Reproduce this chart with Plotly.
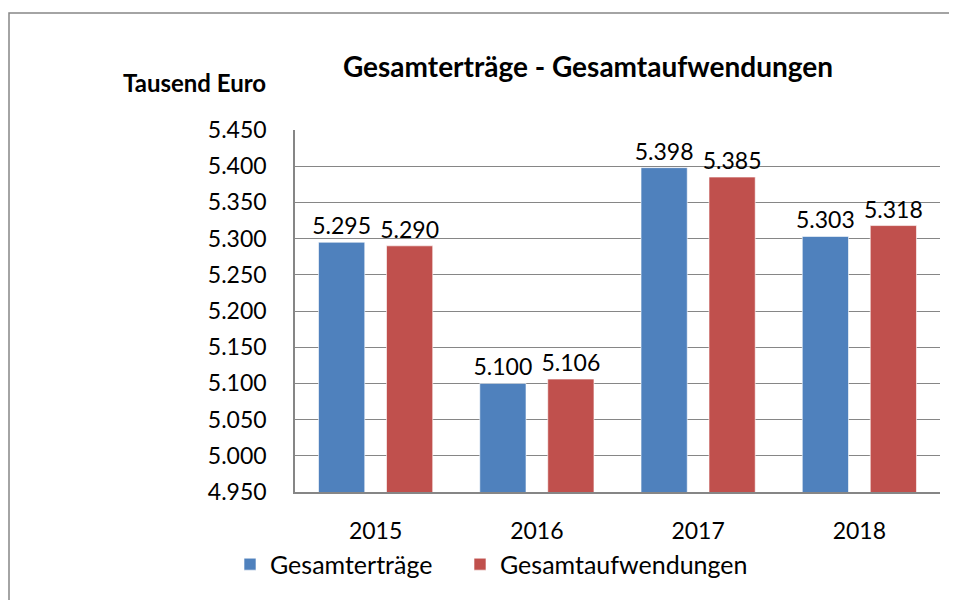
import plotly.graph_objects as go

years = ["2015", "2016", "2017", "2018"]
ertraege = [5295, 5100, 5398, 5303]
aufwendungen = [5290, 5106, 5385, 5318]
series_names = ["Gesamterträge", "Gesamtaufwendungen"]
colors = ["#4F81BD", "#C0504D"]

FONT = "Lato"
OFF = 8  # default page margin of the html body
W, H = 957 - OFF, 600 - OFF
# plot area in page pixels: x 295..940, y 130..495
ML, MT = 295 - OFF, 130 - OFF
MR, MB = W - (940 - OFF), H - (495 - OFF)
PW, PH = W - ML - MR, H - MT - MB
BARGAP = 0.157


def px(xp):
    return (xp - 295) / PW


def py(yp):
    return (495 - yp) / PH


fig = go.Figure()
legends = ["legend", "legend2"]
for name, vals, col, lg in zip(series_names, [ertraege, aufwendungen], colors, legends):
    fig.add_trace(go.Bar(
        x=years, y=vals, name=name, legend=lg, showlegend=True,
        marker=dict(color=col, line=dict(color="rgba(255,255,255,0.6)", width=1)),
        text=[f"{v:,}".replace(",", ".") for v in vals],
        textposition="outside", constraintext="none",
        textfont=dict(size=23, color="black", family=FONT),
        cliponaxis=False,
    ))

leg_common = dict(orientation="h", xanchor="left", yanchor="middle", y=py(568),
                  font=dict(size=25, family=FONT), itemwidth=30,
                  bgcolor="rgba(0,0,0,0)")
fig.update_layout(
    width=W, height=H,
    margin=dict(l=ML, r=MR, t=MT, b=MB),
    paper_bgcolor="white", plot_bgcolor="white",
    separators=",.",
    showlegend=True,
    barmode="group", bargap=BARGAP, bargroupgap=0.32,
    font=dict(family=FONT, size=23, color="black"),
    title=dict(text="<b>Gesamterträge - Gesamtaufwendungen</b>",
               x=(588 - OFF) / W, xanchor="center", y=(H - (67 - OFF)) / H, yanchor="middle",
               xref="container", yref="container", font=dict(size=28, family=FONT)),
    legend=dict(x=px(230), **leg_common),
    legend2=dict(x=px(460), **leg_common),
    xaxis=dict(showline=True, linecolor="#868686", linewidth=1.5,
               ticks="outside", ticklen=18, tickcolor="rgba(0,0,0,0)",
               tickfont=dict(size=23)),
    yaxis=dict(range=[4950, 5450], dtick=50, tickformat=",.0f",
               showgrid=True, gridcolor="#868686", gridwidth=1,
               showline=True, linecolor="#868686", linewidth=1.5,
               ticks="outside", ticklen=22, tickcolor="rgba(0,0,0,0)",
               tickfont=dict(size=23)),
)

fig.add_annotation(text="<b>Tausend Euro</b>", xref="paper", yref="paper",
                   x=px(268), y=py(82), xanchor="right", yanchor="middle",
                   showarrow=False, font=dict(size=24, family=FONT))
fig.add_shape(type="rect", xref="paper", yref="paper",
              x0=px(9), x1=px(1100), y0=py(800), y1=py(12),
              line=dict(color="#868686", width=1.5), layer="below")

fig.write_html("out.html", config={"displayModeBar": False})
